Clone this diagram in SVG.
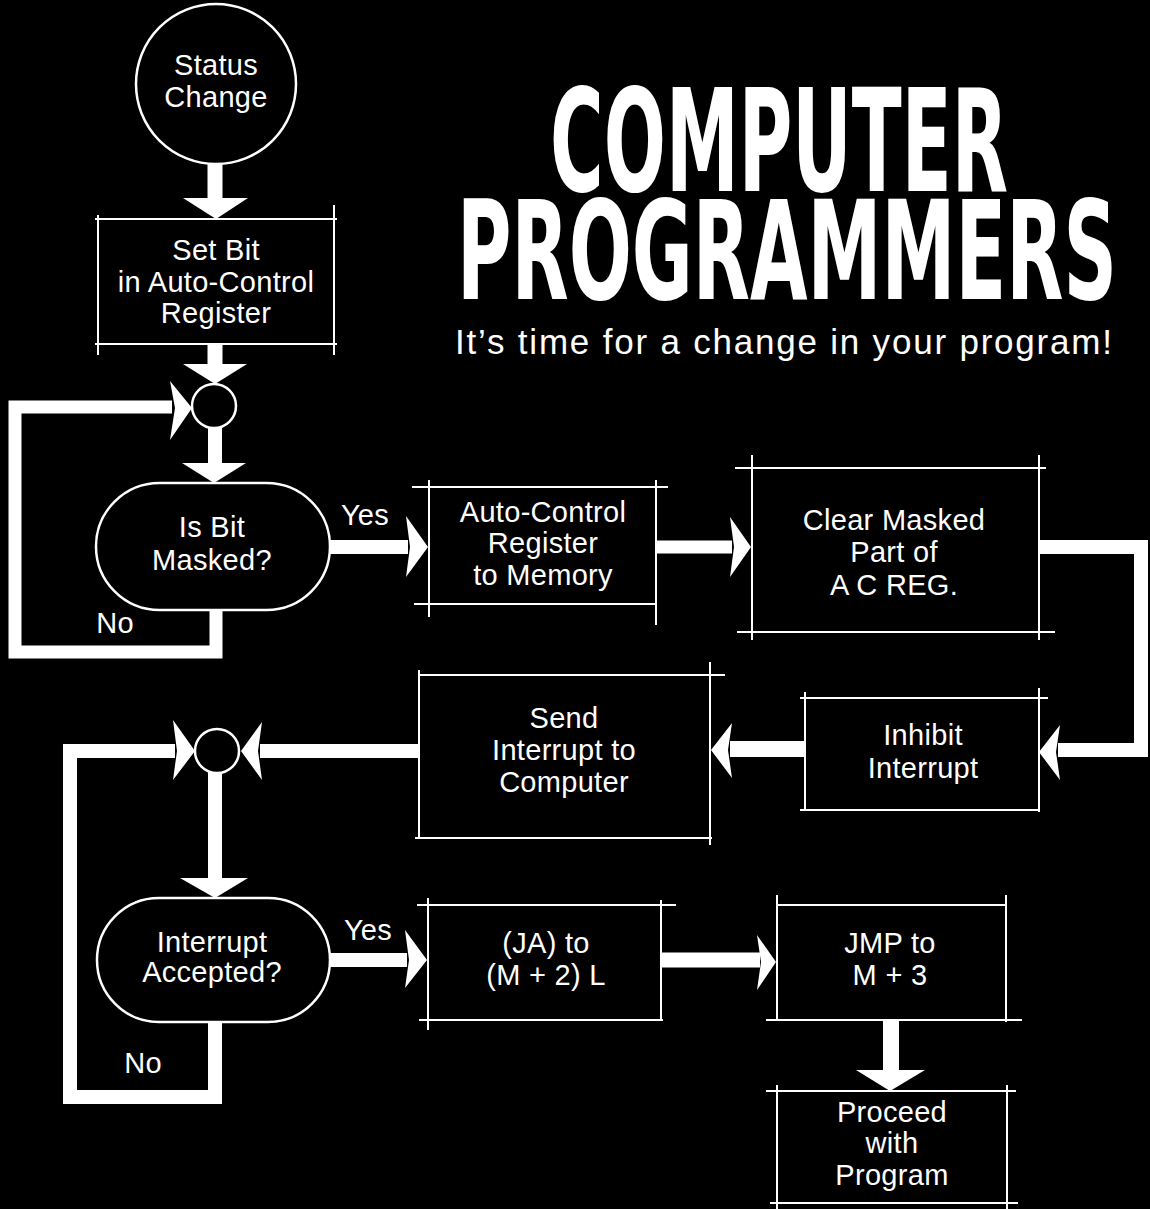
<svg xmlns="http://www.w3.org/2000/svg" width="1150" height="1209" viewBox="0 0 1150 1209">
<style>
.ln{stroke:#fff;stroke-width:2;fill:none}
.sh{stroke:#fff;stroke-width:2.5;fill:#000}
.t{font-family:"Liberation Sans",Arial,sans-serif;font-size:29px;fill:#fff;text-anchor:middle;letter-spacing:0.3px}
.band{stroke:#fff;fill:none;stroke-linejoin:miter}
.head{fill:#fff}
.title{font-family:"Liberation Sans Narrow","DejaVu Sans Condensed","Liberation Sans",sans-serif;font-weight:bold;fill:#fff}
</style>
<rect width="1150" height="1209" fill="#000"/>

<g id="title">
<text class="title" x="550" y="191" font-size="142" textLength="458" lengthAdjust="spacingAndGlyphs">COMPUTER</text>
<text class="title" x="457" y="299" font-size="137" textLength="660" lengthAdjust="spacingAndGlyphs">PROGRAMMERS</text>
<text x="455" y="354" font-family="Liberation Sans,Arial,sans-serif" font-size="35" fill="#fff" textLength="657" lengthAdjust="spacing">It’s time for a change in your program!</text>
</g>

<g id="connectors">
<line class="band" x1="215" y1="162" x2="215" y2="200" stroke-width="15"/>
<polygon class="head" points="183,198 248,198 216,219"/>
<line class="band" x1="215" y1="344" x2="215" y2="366" stroke-width="15"/>
<polygon class="head" points="183,364 247,364 215,384"/>
<line class="band" x1="215" y1="428" x2="215" y2="465" stroke-width="14"/>
<polygon class="head" points="182,463 246,463 214,483"/>
<polyline class="band" points="216,608 216,652 15,652 15,407 172,407" stroke-width="13"/>
<polygon class="head" points="170,381 192,408 170,440 175,408"/>
<line class="band" x1="330" y1="547" x2="408" y2="547" stroke-width="14"/>
<polygon class="head" points="406,516 428,547 406,577 410,547"/>
<line class="band" x1="656" y1="547" x2="732" y2="547" stroke-width="13"/>
<polygon class="head" points="730,517 751,547 730,577 734,547"/>
<polyline class="band" points="1039,547 1141,547 1141,750 1058,750" stroke-width="14"/>
<polygon class="head" points="1060,725 1039,752 1060,780 1056,752"/>
<line class="band" x1="804" y1="749" x2="730" y2="749" stroke-width="16"/>
<polygon class="head" points="732,723 711,750 732,778 728,750"/>
<line class="band" x1="419" y1="751" x2="260" y2="751" stroke-width="14"/>
<polygon class="head" points="262,722 241,751 262,780 258,751"/>
<polyline class="band" points="215,1022 215,1097 70,1097 70,751 175,751" stroke-width="14"/>
<polygon class="head" points="173,720 195,751 173,780 177,751"/>
<line class="band" x1="215" y1="772" x2="215" y2="880" stroke-width="14"/>
<polygon class="head" points="180,878 248,878 215,898"/>
<line class="band" x1="330" y1="960" x2="407" y2="960" stroke-width="14"/>
<polygon class="head" points="405,930 427,960 405,988 409,960"/>
<line class="band" x1="661" y1="960" x2="760" y2="960" stroke-width="15"/>
<polygon class="head" points="757,935 776,962 757,990 761,962"/>
<line class="band" x1="891" y1="1020" x2="891" y2="1072" stroke-width="16"/>
<polygon class="head" points="856,1070 925,1070 890,1091"/>
</g>

<g id="status-change">
<circle class="sh" cx="216" cy="84" r="80"/>
<text class="t" x="216" y="75">Status</text>
<text class="t" x="216" y="107">Change</text>
</g>

<g id="set-bit">
<line class="ln" x1="95" y1="219" x2="337" y2="219"/>
<line class="ln" x1="95" y1="344" x2="337" y2="344"/>
<line class="ln" x1="98" y1="215" x2="98" y2="355"/>
<line class="ln" x1="334" y1="205" x2="334" y2="355"/>
<text class="t" x="216" y="260">Set Bit</text>
<text class="t" x="216" y="292">in Auto-Control</text>
<text class="t" x="216" y="323">Register</text>
</g>

<g id="junction-1">
<circle class="sh" cx="214" cy="406" r="22"/>
</g>

<g id="is-bit-masked">
<rect class="sh" x="96" y="483" width="234" height="127" rx="63.5" ry="63.5"/>
<text class="t" x="212" y="537">Is Bit</text>
<text class="t" x="212" y="570">Masked?</text>
<text class="t" x="365" y="525">Yes</text>
<text class="t" x="115" y="633">No</text>
</g>

<g id="acr-to-memory">
<line class="ln" x1="412" y1="487" x2="668" y2="487"/>
<line class="ln" x1="414" y1="604" x2="657" y2="604"/>
<line class="ln" x1="429" y1="480" x2="429" y2="617"/>
<line class="ln" x1="656" y1="480" x2="656" y2="625"/>
<text class="t" x="543" y="522">Auto-Control</text>
<text class="t" x="543" y="553">Register</text>
<text class="t" x="543" y="585">to Memory</text>
</g>

<g id="clear-masked">
<line class="ln" x1="735" y1="468" x2="1046" y2="468"/>
<line class="ln" x1="737" y1="632" x2="1055" y2="632"/>
<line class="ln" x1="752" y1="455" x2="752" y2="640"/>
<line class="ln" x1="1039" y1="455" x2="1039" y2="640"/>
<text class="t" x="894" y="530">Clear Masked</text>
<text class="t" x="894" y="562">Part of</text>
<text class="t" x="894" y="595">A C REG.</text>
</g>

<g id="inhibit-interrupt">
<line class="ln" x1="800" y1="698" x2="1048" y2="698"/>
<line class="ln" x1="800" y1="810" x2="1040" y2="810"/>
<line class="ln" x1="805" y1="692" x2="805" y2="810"/>
<line class="ln" x1="1039" y1="688" x2="1039" y2="812"/>
<text class="t" x="923" y="745">Inhibit</text>
<text class="t" x="923" y="778">Interrupt</text>
</g>

<g id="send-interrupt">
<line class="ln" x1="418" y1="675" x2="725" y2="675"/>
<line class="ln" x1="415" y1="838" x2="712" y2="838"/>
<line class="ln" x1="419" y1="670" x2="419" y2="838"/>
<line class="ln" x1="710" y1="662" x2="710" y2="845"/>
<text class="t" x="564" y="728">Send</text>
<text class="t" x="564" y="760">Interrupt to</text>
<text class="t" x="564" y="792">Computer</text>
</g>

<g id="junction-2">
<circle class="sh" cx="217" cy="751" r="22"/>
</g>

<g id="interrupt-accepted">
<rect class="sh" x="97" y="898" width="233" height="124" rx="62" ry="62"/>
<text class="t" x="212" y="952">Interrupt</text>
<text class="t" x="212" y="982">Accepted?</text>
<text class="t" x="368" y="940">Yes</text>
<text class="t" x="143" y="1073">No</text>
</g>

<g id="ja-to-m2">
<line class="ln" x1="417" y1="905" x2="676" y2="905"/>
<line class="ln" x1="419" y1="1020" x2="663" y2="1020"/>
<line class="ln" x1="428" y1="898" x2="428" y2="1030"/>
<line class="ln" x1="661" y1="900" x2="661" y2="1020"/>
<text class="t" x="546" y="953">(JA) to</text>
<text class="t" x="546" y="985">(M + 2) L</text>
</g>

<g id="jmp-m3">
<line class="ln" x1="776" y1="905" x2="1007" y2="905"/>
<line class="ln" x1="766" y1="1020" x2="1022" y2="1020"/>
<line class="ln" x1="777" y1="895" x2="777" y2="1020"/>
<line class="ln" x1="1006" y1="895" x2="1006" y2="1022"/>
<text class="t" x="890" y="953">JMP to</text>
<text class="t" x="890" y="985">M + 3</text>
</g>

<g id="proceed">
<line class="ln" x1="766" y1="1091" x2="1016" y2="1091"/>
<line class="ln" x1="770" y1="1203" x2="1018" y2="1203"/>
<line class="ln" x1="777" y1="1085" x2="777" y2="1209"/>
<line class="ln" x1="1007" y1="1085" x2="1007" y2="1209"/>
<text class="t" x="892" y="1122">Proceed</text>
<text class="t" x="892" y="1153">with</text>
<text class="t" x="892" y="1185">Program</text>
</g>
</svg>
